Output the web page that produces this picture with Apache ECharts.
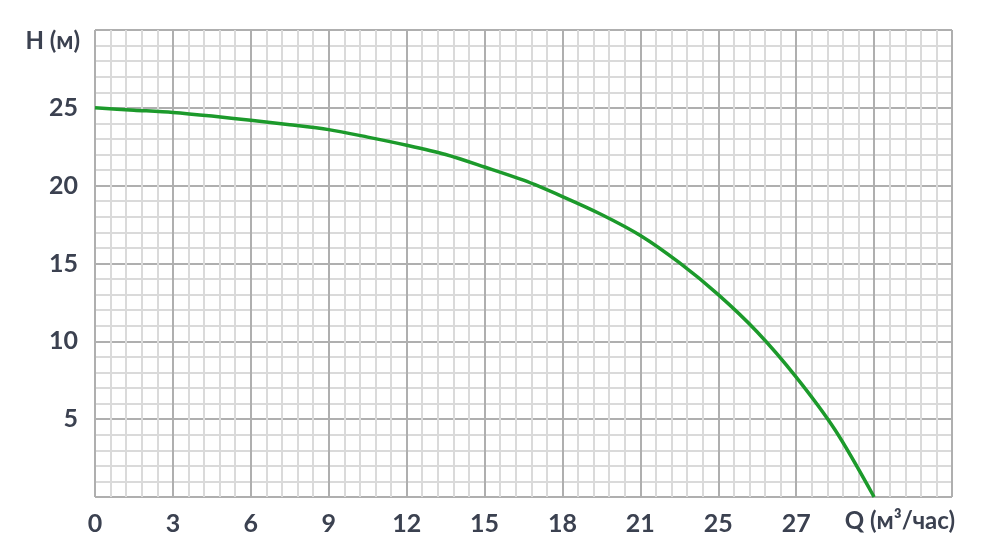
<!DOCTYPE html>
<html>
<head>
<meta charset="utf-8">
<script src="https://cdn.jsdelivr.net/npm/echarts@6/dist/echarts.min.js"></script>
<style>html,body{margin:0;padding:0;background:#fff}#c{width:995px;height:550px}</style>
</head>
<body>
<div id="c"></div>
<script>
// Tick labels at each major vertical gridline (index positions)
const xTickLabels = ['0', '3', '6', '9', '12', '15', '18', '21', '25', '27', '', ''];
const xAxisTitle = 'Q (м³/час)';
const yAxisTitle = 'H (м)';
// Curve: positions in major-grid index units, and head H (m)
const curveX = [0, 0.5, 1, 1.5, 2, 2.5, 3, 3.5, 4, 4.5, 5, 5.5, 6, 6.5, 7, 7.5, 8, 8.5, 9, 9.5, 10];
const curveH = [25, 24.85, 24.7, 24.47, 24.2, 23.92, 23.6, 23.12, 22.6, 22.0, 21.2, 20.35, 19.3, 18.15, 16.8, 15.05, 13.0, 10.6, 7.7, 4.3, 0];

const textColor = '#3b4150';
const font = 'Lato';

const chart = echarts.init(document.getElementById('c'));
chart.setOption({
  animation: false,
  backgroundColor: '#ffffff',
  grid: { left: 95, right: 43, top: 30, bottom: 53 },
  xAxis: {
    type: 'value', min: 0, max: 11, interval: 1,
    name: xAxisTitle, nameLocation: 'end', nameGap: 3,
    nameTextStyle: { color: textColor, fontFamily: font, fontWeight: 'bold', fontSize: 24,
      align: 'right', verticalAlign: 'top', padding: [12, 0, 0, 0] },
    axisLine: { show: false }, axisTick: { show: false },
    axisLabel: { color: textColor, fontFamily: font, fontWeight: 'bold', fontSize: 25, margin: 14,
      formatter: v => xTickLabels[Math.round(v)] || '' },
    splitLine: { show: true, lineStyle: { color: '#afafaf', width: 2 } },
    minorTick: { show: false, splitNumber: 5 },
    minorSplitLine: { show: true, lineStyle: { color: '#dadada', width: 2 } }
  },
  yAxis: {
    type: 'value', min: 0, max: 30, interval: 5,
    name: yAxisTitle, nameLocation: 'end', nameGap: -11,
    nameTextStyle: { color: textColor, fontFamily: font, fontWeight: 'bold', fontSize: 24,
      align: 'right', verticalAlign: 'middle', padding: [0, 15, 0, 0] },
    axisLine: { show: false }, axisTick: { show: false },
    axisLabel: { color: textColor, fontFamily: font, fontWeight: 'bold', fontSize: 25, margin: 17,
      formatter: v => (v === 0 || v === 30) ? '' : String(v) },
    splitLine: { show: true, lineStyle: { color: '#afafaf', width: 2 } },
    minorTick: { show: false, splitNumber: 5 },
    minorSplitLine: { show: true, lineStyle: { color: '#dadada', width: 2 } }
  },
  series: [{
    type: 'line',
    data: curveX.map((x, i) => [x, curveH[i]]),
    smooth: 0.3,
    showSymbol: false,
    lineStyle: { color: '#1c9a2b', width: 3.5 }
  }]
});
</script>
</body>
</html>
